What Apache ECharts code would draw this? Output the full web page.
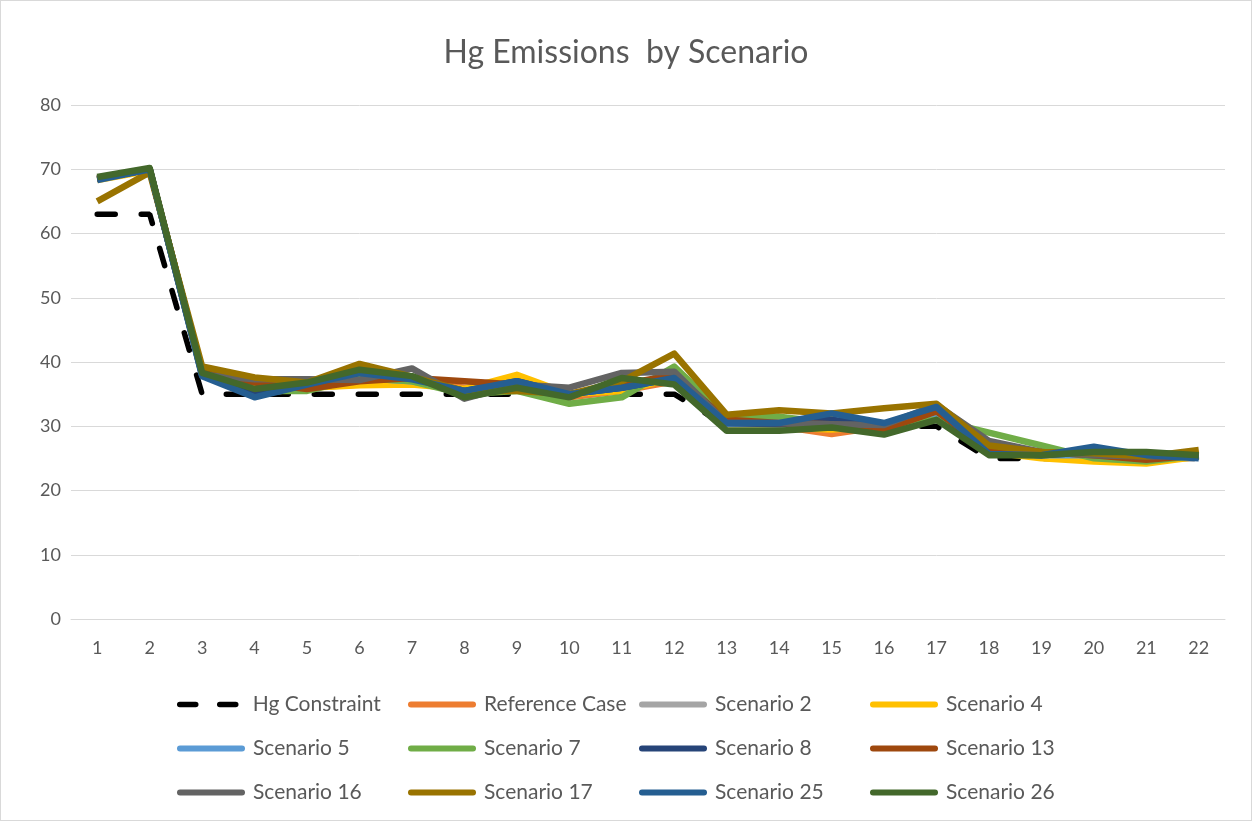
<!DOCTYPE html>
<html>
<head>
<meta charset="utf-8">
<script src="https://cdn.jsdelivr.net/npm/echarts@6/dist/echarts.min.js"></script>
<style>
html, body { margin: 0; padding: 0; background: #fff; }
#chart { width: 1250px; height: 819px; border: 1px solid #d9d9d9; }
</style>
</head>
<body>
<div id="chart"></div>
<script>
// data
const categories = ['1','2','3','4','5','6','7','8','9','10','11','12','13','14','15','16','17','18','19','20','21','22']
const hgConstraint = [63,63,35,35,35,35,35,35,35,35,35,35,30,30,30,30,30,25,25,25,25,25]
const referenceCase = [68.5,70,38.5,37,36,36.5,37,36,36,34.5,35.5,37,30.5,30,28.8,30,32,26,25.5,25.3,24.5,25.5]
const scenario2 = [68.5,70,38.3,37,36.5,37,37.5,35.5,36.5,35,36,37.5,30.5,30.5,30,30,32.5,27,25.8,25.5,25,25.5]
const scenario4 = [68.3,69.8,38.5,36.5,36,36.4,36.5,35.8,38,35,35.5,37.5,30,29.8,29.5,30,32,26,25,24.5,24.2,25.3]
const scenario5 = [68.5,70,38,35,36,37.5,37,35.5,36.5,35,36,37.5,30.3,30.3,30,30,32,26,25.5,25.5,25,25.3]
const scenario7 = [68.6,70,38.3,35.5,35.5,37.5,37,35,35.5,33.5,34.5,39.3,31.5,31.5,30.5,30,31,29,27,25,24.5,25.5]
const scenario8 = [68.5,70,38,35.5,36.5,38.3,37.5,35.5,37,35,36,37.5,30.5,30.3,31,30,32.5,26,25.5,26,25.3,25.3]
const scenario13 = [68.5,70,38.5,36.8,35.8,37,37.5,37,36.5,35,36.5,38,31,30.5,30.3,29.5,32.3,26.5,26,25.5,24.8,25.5]
const scenario16 = [68.5,70,38,37.3,37.3,37.2,39,34.3,36.5,36,38.3,38.5,30.5,30.5,30.3,30.2,33.3,27.7,26,25.5,25.3,25.5]
const scenario17 = [65,69.5,39.3,37.6,36.8,39.7,37.7,35.5,35.5,35,37,41.3,31.8,32.5,32,32.8,33.5,27,26,25.8,25.3,26.3]
const scenario25 = [68.3,70,37.8,34.5,36.5,38.3,37.3,35.5,37,35,36,37.5,30.5,30.5,32,30.5,33,25.7,25.5,26.8,25.5,25]
const scenario26 = [68.8,70.2,38.3,35.8,36.8,38.8,37.8,34.5,36,34.5,37.5,36.5,29.3,29.3,29.8,28.7,31,25.5,25.5,26,26,25.5]

const FONT = 'Lato, "Open Sans", sans-serif'
const TXT = '#595959'

const myChart = echarts.init(document.getElementById('chart'))

const lines = [
  ['Reference Case', referenceCase, '#ED7D31'],
  ['Scenario 2', scenario2, '#A5A5A5'],
  ['Scenario 4', scenario4, '#FFC000'],
  ['Scenario 5', scenario5, '#5B9BD5'],
  ['Scenario 7', scenario7, '#70AD47'],
  ['Scenario 8', scenario8, '#264478'],
  ['Scenario 13', scenario13, '#9E480E'],
  ['Scenario 16', scenario16, '#636363'],
  ['Scenario 17', scenario17, '#997300'],
  ['Scenario 25', scenario25, '#255E91'],
  ['Scenario 26', scenario26, '#43682B']
]

const series = [{
  name: 'Hg Constraint',
  type: 'line',
  data: hgConstraint,
  symbol: 'none',
  lineStyle: { color: '#000', width: 5.5, type: [18, 26], cap: 'round' },
  itemStyle: { color: '#000' },
  z: 1
}].concat(lines.map(l => ({
  name: l[0],
  type: 'line',
  data: l[1],
  symbol: 'none',
  lineStyle: { color: l[2], width: 6.5, join: 'round' },
  itemStyle: { color: l[2] }
})))

// one legend box per item so the columns line up like the original grid
const legends = series.map((s, i) => ({
  data: [s.name],
  left: 171 + (i % 4) * 231,
  top: 688 + Math.floor(i / 4) * 44,
  itemWidth: 62,
  itemHeight: 14,
  selectedMode: false,
  itemStyle: { opacity: 0 },
  lineStyle: i === 0
    ? { width: 5.5, type: [16, 24], cap: 'round' }
    : { width: 6, cap: 'round' },
  textStyle: { fontFamily: FONT, fontSize: 21, color: TXT, padding: [0, 0, 0, 6] }
}))

const option = {
  animation: false,
  title: {
    text: 'Hg Emissions  by Scenario',
    left: 'center',
    top: 31,
    textStyle: { fontFamily: FONT, fontSize: 32, fontWeight: 'normal', color: TXT }
  },
  legend: legends,
  grid: { left: 70, right: 26, top: 104, bottom: 201 },
  xAxis: {
    type: 'category',
    data: categories,
    boundaryGap: true,
    axisLine: { lineStyle: { color: '#d9d9d9' } },
    axisTick: { show: false },
    axisLabel: { fontFamily: FONT, fontSize: 18, color: TXT, margin: 20 }
  },
  yAxis: {
    type: 'value',
    min: 0,
    max: 80,
    interval: 10,
    axisLine: { show: false },
    axisTick: { show: false },
    splitLine: { lineStyle: { color: '#d9d9d9' } },
    axisLabel: { fontFamily: FONT, fontSize: 18, color: TXT, margin: 10 }
  },
  series: series
}

myChart.setOption(option)
</script>
</body>
</html>
